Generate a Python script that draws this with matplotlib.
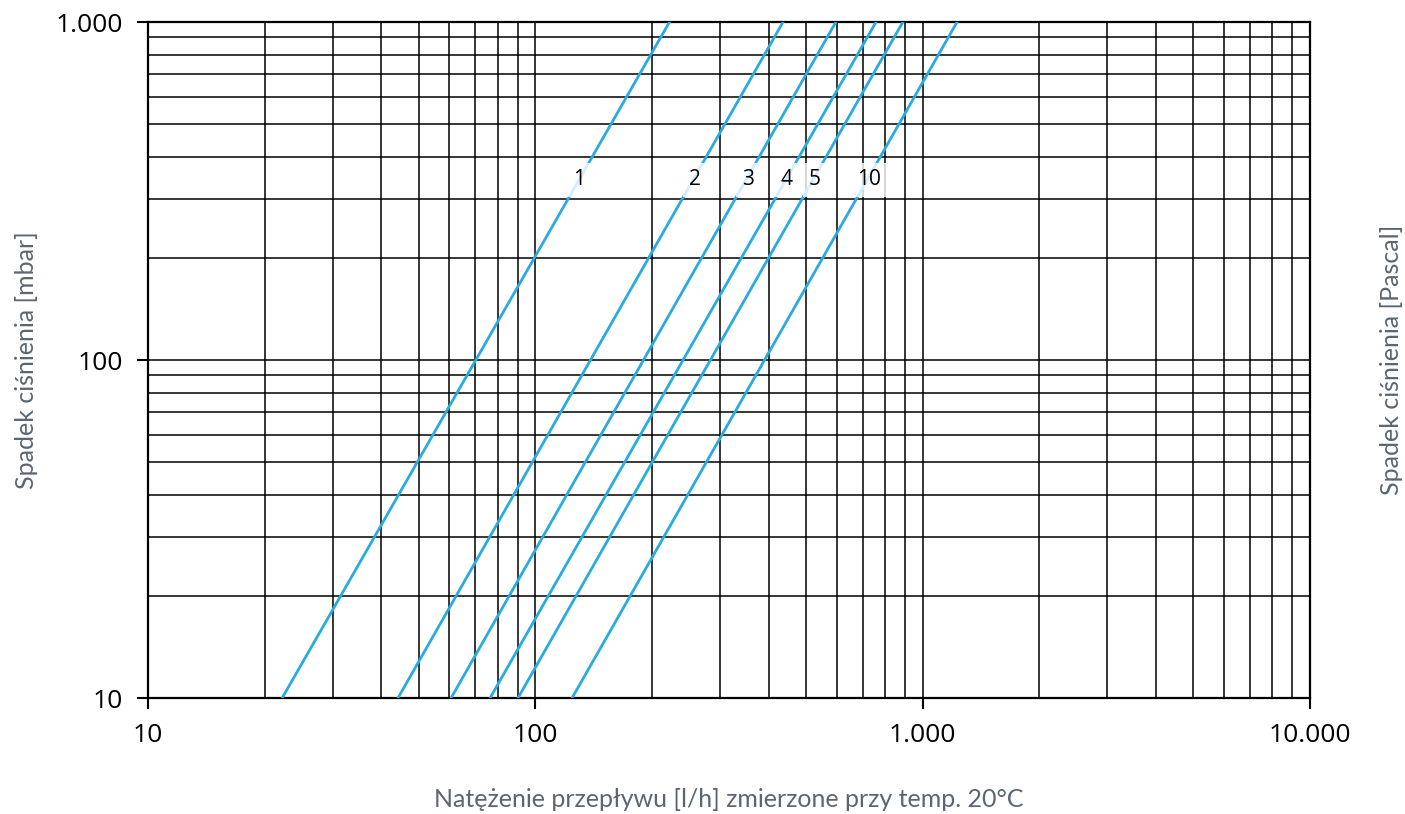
import numpy as np
import matplotlib
matplotlib.use("Agg")
import matplotlib.pyplot as plt
from matplotlib.ticker import FuncFormatter, LogLocator, NullFormatter

# curve names and flow [l/h] read at 10 mbar and 1000 mbar
names = ["1", "2", "3", "4", "5", "10"]
q_at_10 = [22.2, 44.2, 60.6, 76.4, 90.2, 124.4]
q_at_1000 = [222, 436, 597, 758, 889, 1227]
dp_ends = [10, 1000]
label_dp = 341

xticks = [10, 100, 1000, 10000]
yticks = [10, 100, 1000]

line_col = "#29abe2"
text_col = "#5b6670"


def fmt(v, pos):
    return "{:,.0f}".format(v).replace(",", ".")


fig = plt.figure(figsize=(14.05, 8.14), dpi=100)
ax = fig.add_axes([148 / 1405, 1 - 698 / 814, (1310 - 148) / 1405, (698 - 22) / 814])
ax.set_xscale("log")
ax.set_yscale("log")
ax.set_xlim(10, 10000)
ax.set_ylim(10, 1000)

for n, q0, q1 in zip(names, q_at_10, q_at_1000):
    ax.plot([q0, q1], dp_ends, color=line_col, lw=2, zorder=3)
    # position of label on the line (dp ~ Q^2)
    qx = q0 * np.sqrt(label_dp / dp_ends[0])
    ax.text(qx, label_dp, n, ha="center", va="center", fontsize=15,
            family="Open Sans", color="black", zorder=4,
            bbox=dict(boxstyle="square,pad=0.3", fc="white", ec="none", alpha=0.8))

ax.grid(True, which="both", color="black", lw=1.1, zorder=1)
ax.set_xticks(xticks)
ax.set_yticks(yticks)
ax.xaxis.set_minor_locator(LogLocator(base=10, subs=np.arange(2, 10)))
ax.yaxis.set_minor_locator(LogLocator(base=10, subs=np.arange(2, 10)))
ax.xaxis.set_major_formatter(FuncFormatter(fmt))
ax.yaxis.set_major_formatter(FuncFormatter(fmt))
ax.xaxis.set_minor_formatter(NullFormatter())
ax.yaxis.set_minor_formatter(NullFormatter())
ax.tick_params(which="major", direction="out", length=8, width=1.5, labelsize=19, pad=10)
ax.tick_params(which="minor", length=0)
for lab in ax.get_xticklabels() + ax.get_yticklabels():
    lab.set_family("Open Sans")
for s in ax.spines.values():
    s.set_linewidth(1.6)
    s.set_color("black")

ax.set_xlabel("Natężenie przepływu [l/h] zmierzone przy temp. 20°C", fontsize=18,
              family="Lato", color=text_col)
ax.xaxis.set_label_coords(0.5, -0.133)
ax.set_ylabel("Spadek ciśnienia [mbar]", fontsize=18, family="Lato", color=text_col)
ax.yaxis.set_label_coords(-0.0947, 0.5)
ax2 = ax.twinx()
ax2.set_yticks([])
ax2.set_ylabel("Spadek ciśnienia [Pascal]", fontsize=18, family="Lato", color=text_col)
ax2.yaxis.set_label_coords(1.0602, 0.5)
for s in ax2.spines.values():
    s.set_visible(False)

fig.savefig("out.png", dpi=100)
